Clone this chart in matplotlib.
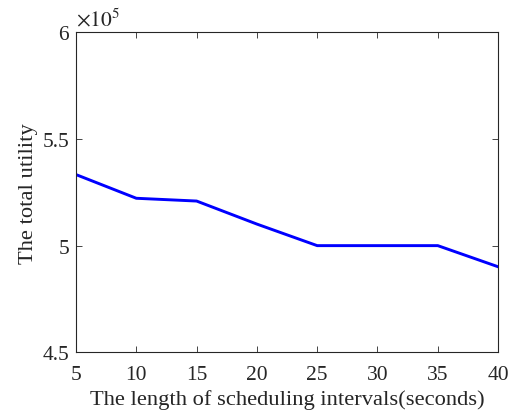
import matplotlib.pyplot as plt

# data (total utility)
intervals = [5, 10, 15, 20, 25, 30, 35, 40]
utility = [5.333e5, 5.222e5, 5.209e5, 5.101e5, 5.0e5, 5.0e5, 5.0e5, 4.901e5]
y_ticks = [4.5e5, 5.0e5, 5.5e5, 6.0e5]
y_tick_labels = ["4.5", "5", "5.5", "6"]
x_ticks = [5, 10, 15, 20, 25, 30, 35, 40]

plt.rcParams['font.family'] = ['Liberation Serif', 'DejaVu Serif']
plt.rcParams['mathtext.fontset'] = 'stix'

fig = plt.figure(figsize=(5.16, 4.14), dpi=100)
ax = fig.add_axes([0.1473, 0.1466, 0.818, 0.773])

ax.plot(intervals, utility, color='#0000ff', linewidth=2.1)

ax.set_xlim(5, 40)
ax.set_ylim(4.5e5, 6.0e5)
ax.set_xticks(x_ticks)
ax.set_yticks(y_ticks)
ax.set_yticklabels(y_tick_labels)

ax.tick_params(direction='in', length=4, width=0.6, labelsize=15.5, colors='#262626',
               top=True, right=True)
ax.tick_params(axis='x', pad=9)
ax.tick_params(axis='y', pad=5)
for s in ax.spines.values():
    s.set_linewidth(0.8)
    s.set_color('#262626')

ax.set_xlabel("The length of scheduling intervals(seconds)", fontsize=16.2, color='#262626', labelpad=4)
ax.set_ylabel("The total utility", fontsize=16.2, color='#262626', labelpad=3)
ax.text(0.0, 1.005, r"$\times10^5$", transform=ax.transAxes, fontsize=15.5,
        color='#262626', ha='left', va='bottom')

fig.savefig("out.png", dpi=100)
